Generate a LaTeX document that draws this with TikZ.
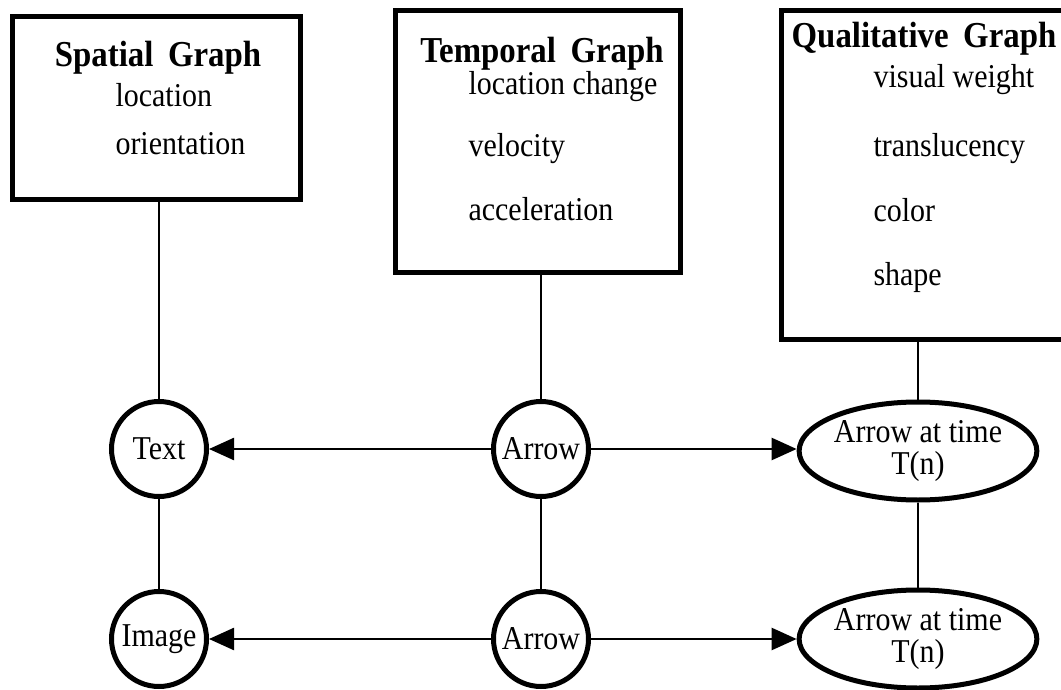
\documentclass[tikz,border=0pt]{standalone}
\usepackage{fontspec}
\setmainfont{Liberation Serif}[FakeStretch=0.9]
\usetikzlibrary{shapes.geometric,arrows.meta}
\begin{document}
\begin{tikzpicture}[x=1pt,y=-1pt,
  graphbox/.style={draw,line width=5pt,rectangle,inner sep=0pt,outer sep=0pt,anchor=north west},
  ttl/.style={anchor=base,font=\fontsize{36.5}{42}\selectfont\bfseries},
  item/.style={anchor=base west,font=\fontsize{33.3}{38}\selectfont},
  circ/.style={draw,circle,line width=5pt,inner sep=0pt,minimum size=95pt,font=\fontsize{33.3}{38}\selectfont},
  ell/.style={draw,ellipse,line width=5pt,inner sep=0pt,minimum width=234pt,minimum height=98pt,align=center,font=\fontsize{33.3}{32}\selectfont},
  conn/.style={line width=2.5pt},
  arr/.style={line width=2.5pt,-{Triangle[length=25pt,width=22pt]}}
]
\useasboundingbox (0,0) rectangle (1061,690);

% boxes
\node[graphbox,minimum width=288pt,minimum height=183pt] (sp) at (12,17) {};
\node[graphbox,minimum width=285pt,minimum height=261pt] (tp) at (395,11) {};
\node[graphbox,minimum width=287pt,minimum height=328pt] (ql) at (781,11) {};

% box texts
\node[ttl] (spt) at (158,67) {Spatial\hspace{0.4em}Graph};
\node[item] (sp1) at (112,107) {location};
\node[item] (sp2) at (112,155) {orientation};

\node[ttl] (tpt) at (542,63) {Temporal\hspace{0.4em}Graph};
\node[item] (tp1) at (465,95) {location change};
\node[item] (tp2) at (465,157) {velocity};
\node[item] (tp3) at (465,220) {acceleration};

\node[ttl] (qlt) at (924,48) {Qualitative\hspace{0.4em}Graph};
\node[item] (ql1) at (870,88) {visual weight};
\node[item] (ql2) at (870,157) {translucency};
\node[item] (ql3) at (870,222) {color};
\node[item] (ql4) at (870,285) {shape};

% graph nodes
\node[circ] (text) at (159,449) {Text};
\node[circ] (image) at (159,639) {Image};
\node[circ] (arrowa) at (541,449) {Arrow};
\node[circ] (arrowb) at (541,639) {Arrow};
\node[ell] (ella) at (918,451) {Arrow at time\\T(n)};
\node[ell] (ellb) at (918,639) {Arrow at time\\T(n)};

% vertical connectors
\draw[conn] (sp.south -| text) -- (text);
\draw[conn] (text) -- (image);
\draw[conn] (tp.south -| arrowa) -- (arrowa);
\draw[conn] (arrowa) -- (arrowb);
\draw[conn] (ql.south -| ella) -- (ella);
\draw[conn] (ella) -- (ellb);

% arrows
\draw[arr] (arrowa) -- (text);
\draw[arr] (arrowa) -- (arrowa -| ella.west);
\draw[arr] (arrowb) -- (image);
\draw[arr] (arrowb) -- (ellb);
\end{tikzpicture}
\end{document}
